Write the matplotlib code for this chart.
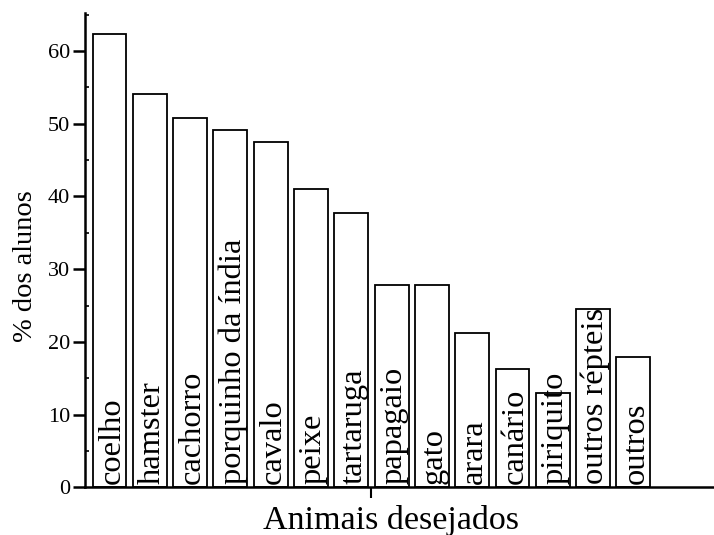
import matplotlib
matplotlib.use("Agg")
import matplotlib.pyplot as plt
from matplotlib.ticker import MultipleLocator, FixedLocator, NullFormatter

plt.rcParams['font.family'] = ['Liberation Serif', 'DejaVu Serif']

categories = ["coelho", "hamster", "cachorro", "porquinho da índia", "cavalo",
              "peixe", "tartaruga", "papagaio", "gato", "arara", "canário",
              "piriquito", "outros répteis", "outros"]
values = [62.3, 54.1, 50.8, 49.2, 47.5, 41.0, 37.7, 27.8, 27.8, 21.2, 16.3,
          13.0, 24.5, 17.9]
y_ticks = [0, 10, 20, 30, 40, 50, 60]

fig = plt.figure(figsize=(7.14, 5.35), dpi=100)
ax = fig.add_axes([0.1195, 0.0892, 0.8805, 0.886])

x = list(range(len(categories)))
ax.bar(x, values, width=0.84, color='white', edgecolor='black', linewidth=1.3, zorder=2)

for xi, name in zip(x, categories):
    ax.text(xi + 0.06, 0.45, name, rotation=90, ha='center', va='bottom',
            fontsize=23.4, color='black', zorder=3)

ax.set_xlim(-0.6, 15.0)
ax.set_ylim(0, 65.2)

ax.yaxis.set_major_locator(FixedLocator(y_ticks))
ax.yaxis.set_minor_locator(MultipleLocator(5))
ax.xaxis.set_major_locator(FixedLocator([6.5]))
ax.xaxis.set_major_formatter(NullFormatter())

for side in ['top', 'right']:
    ax.spines[side].set_visible(False)
for side in ['left', 'bottom']:
    ax.spines[side].set_linewidth(1.8)

ax.tick_params(axis='y', which='major', direction='out', length=9, width=1.8,
               labelsize=16, pad=2)
ax.tick_params(axis='y', which='minor', direction='in', length=3, width=1.2)
ax.tick_params(axis='x', which='major', direction='out', length=8, width=1.5)

ax.set_ylabel("% dos alunos", fontsize=20.5)
ax.set_xlabel("Animais desejados", fontsize=24.5)
ax.yaxis.set_label_coords(-0.075, 0.466)
ax.xaxis.set_label_coords(0.487, -0.0886)
ax.xaxis.label.set_va('baseline')

fig.savefig("out.png", dpi=100)
